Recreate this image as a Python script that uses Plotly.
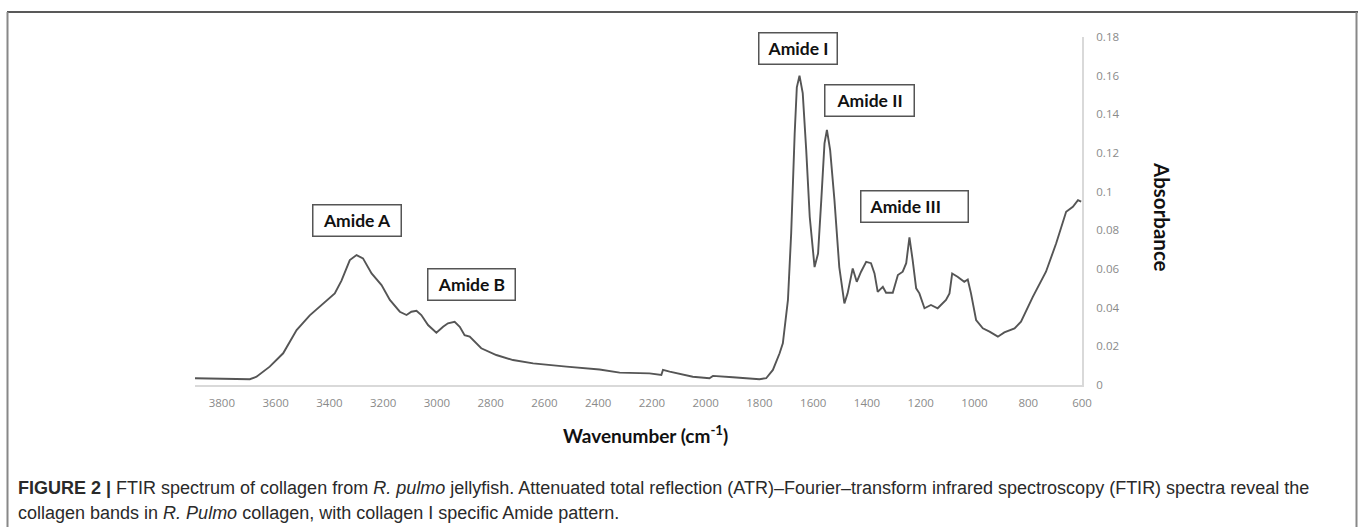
import plotly.graph_objects as go

# ---- data ----
wavenumber = [3900, 3696, 3671, 3622, 3572, 3522, 3473, 3423, 3380, 3355, 3324, 3299, 3275, 3243,
              3206, 3175, 3138, 3113, 3095, 3076, 3058, 3033, 3002, 2977, 2959, 2934, 2915, 2897,
              2878, 2835, 2779, 2717, 2642, 2518, 2395, 2320, 2209, 2165, 2159, 2134, 2048, 1986,
              1973, 1899, 1800, 1775, 1750, 1725, 1713, 1694, 1682, 1669, 1661, 1651, 1639, 1626,
              1613, 1595, 1582, 1570, 1558, 1549, 1537, 1521, 1503, 1484, 1472, 1453, 1438, 1422,
              1403, 1385, 1372, 1360, 1341, 1329, 1304, 1285, 1267, 1254, 1242, 1230, 1217, 1205,
              1186, 1162, 1137, 1106, 1093, 1083, 1063, 1038, 1025, 1013, 994, 969, 944, 913, 889,
              851, 827, 783, 734, 696, 659, 634, 615, 603]
absorbance = [0.0035, 0.0030, 0.0043, 0.0095, 0.0164, 0.0284, 0.0360, 0.0420, 0.0474, 0.0540,
              0.0646, 0.0672, 0.0655, 0.0577, 0.0517, 0.0440, 0.0379, 0.0362, 0.0379, 0.0384,
              0.0362, 0.0310, 0.0270, 0.0301, 0.0319, 0.0327, 0.0301, 0.0258, 0.0250, 0.0190,
              0.0155, 0.0129, 0.0112, 0.0095, 0.0080, 0.0064, 0.0060, 0.0052, 0.0078, 0.0069,
              0.0043, 0.0035, 0.0047, 0.0040, 0.0030, 0.0035, 0.0078, 0.0164, 0.0216, 0.0440,
              0.0784, 0.1300, 0.1540, 0.1600, 0.1510, 0.1215, 0.0870, 0.0610, 0.0680, 0.0956,
              0.1250, 0.1320, 0.1215, 0.0956, 0.0610, 0.0422, 0.0474, 0.0603, 0.0534, 0.0586,
              0.0637, 0.0630, 0.0577, 0.0482, 0.0508, 0.0477, 0.0477, 0.0569, 0.0586, 0.0630,
              0.0764, 0.0646, 0.0500, 0.0474, 0.0397, 0.0414, 0.0397, 0.0440, 0.0474, 0.0577,
              0.0560, 0.0534, 0.0546, 0.0474, 0.0336, 0.0293, 0.0276, 0.0250, 0.0272, 0.0293,
              0.0327, 0.0456, 0.0586, 0.0733, 0.0896, 0.0922, 0.0956, 0.0948]

x_ticks = [3800, 3600, 3400, 3200, 3000, 2800, 2600, 2400, 2200, 2000, 1800, 1600, 1400, 1200, 1000, 800, 600]
y_ticks = [0, 0.02, 0.04, 0.06, 0.08, 0.1, 0.12, 0.14, 0.16, 0.18]
y_tick_labels = ["0", "0.02", "0.04", "0.06", "0.08", "0.1", "0.12", "0.14", "0.16", "0.18"]

band_labels = ["Amide A", "Amide B", "Amide I", "Amide II", "Amide III"]
band_x = [3298, 2871, 1655, 1391, 1224]
band_y = [0.0853, 0.0522, 0.1742, 0.1473, 0.0925]

# ---- layout geometry (pixels) ----
W, H = 1358, 527
L, R, T, B = 195, 1082, 37, 385


def px(xp):
    return (xp - L) / (R - L)


def py(yp):
    return (B - yp) / (B - T)


fig = go.Figure()
fig.add_trace(go.Scatter(x=wavenumber, y=absorbance, mode="lines",
                         line=dict(color="#555555", width=1.9), hoverinfo="skip",
                         showlegend=False))

box_w = [90, 89, 80, 91, 109]
lab_font = dict(family="Lato", size=17.5, color="#111")
for lab, bx, by, bw in zip(band_labels, band_x, band_y, box_w):
    if lab == "Amide III":
        fig.add_annotation(x=bx, y=by, text="<b>%s</b>" % lab, showarrow=False,
                           font=lab_font, xanchor="center", yanchor="middle",
                           bordercolor="#555", borderwidth=1.5, borderpad=8,
                           bgcolor="white", width=bw - 19, height=33 - 19, align="left")
    else:
        fig.add_annotation(x=bx, y=by, text="<b>%s</b>" % lab, showarrow=False,
                           font=lab_font, xanchor="center", yanchor="middle",
                           bordercolor="#555", borderwidth=1.5, borderpad=0,
                           bgcolor="white", width=bw - 3, height=33 - 3, align="center")

# axis titles
fig.add_annotation(xref="paper", yref="paper", x=px(645), y=py(434), xanchor="center", yanchor="middle",
                   text="<b>Wavenumber (cm<sup>-1</sup>)</b>", showarrow=False,
                   font=dict(family="Lato", size=19, color="#111"))
fig.add_annotation(xref="paper", yref="paper", x=px(1162), y=py(217), xanchor="center", yanchor="middle",
                   text="<b>Absorbance</b>", showarrow=False, textangle=90,
                   font=dict(family="Lato", size=20.5, color="#111"))

# caption
cap_font = dict(family="Liberation Sans", size=18, color="#2a2a2a")
fig.add_annotation(xref="paper", yref="paper", x=px(16), y=py(488), xanchor="left", yanchor="middle",
                   text="<b>FIGURE 2 |</b> FTIR spectrum of collagen from <i>R. pulmo</i> jellyfish. "
                        "Attenuated total reflection (ATR)\u2013Fourier\u2013transform infrared spectroscopy "
                        "(FTIR) spectra reveal the",
                   showarrow=False, font=cap_font, align="left")
fig.add_annotation(xref="paper", yref="paper", x=px(16), y=py(513), xanchor="left", yanchor="middle",
                   text="collagen bands in <i>R. Pulmo</i> collagen, with collagen I specific Amide pattern.",
                   showarrow=False, font=cap_font, align="left")

# outer frame
fig.add_shape(type="line", xref="paper", yref="paper", x0=px(7), x1=px(1358), y0=py(12), y1=py(12),
              line=dict(color="#222", width=1.5))
fig.add_shape(type="line", xref="paper", yref="paper", x0=px(7.5), x1=px(7.5), y0=py(12), y1=py(530),
              line=dict(color="#888", width=2))
fig.add_shape(type="line", xref="paper", yref="paper", x0=px(1356.5), x1=px(1356.5), y0=py(12), y1=py(530),
              line=dict(color="#888", width=2))

tick_font = dict(family="Open Sans", size=11.5, color="#8a8a8a")
fig.update_xaxes(range=[3900, 600], tickvals=x_ticks, ticktext=[str(v) for v in x_ticks],
                 showgrid=False, zeroline=False, showline=True, linecolor="#d9d9d9", linewidth=2,
                 ticks="", tickfont=tick_font, ticklabelstandoff=6)
fig.update_yaxes(range=[0, 0.18], side="right", tickvals=y_ticks, ticktext=y_tick_labels,
                 showgrid=False, zeroline=False, showline=True, linecolor="#d9d9d9", linewidth=2,
                 ticks="", tickfont=tick_font, ticklabelstandoff=10)

fig.update_layout(width=W, height=H, margin=dict(l=L, r=W - R, t=T, b=H - B, autoexpand=False),
                  paper_bgcolor="white", plot_bgcolor="white", showlegend=False)

fig.write_html("out.html", config={"displayModeBar": False},
               post_script="document.body.style.margin='0px';document.body.style.overflow='hidden';")
